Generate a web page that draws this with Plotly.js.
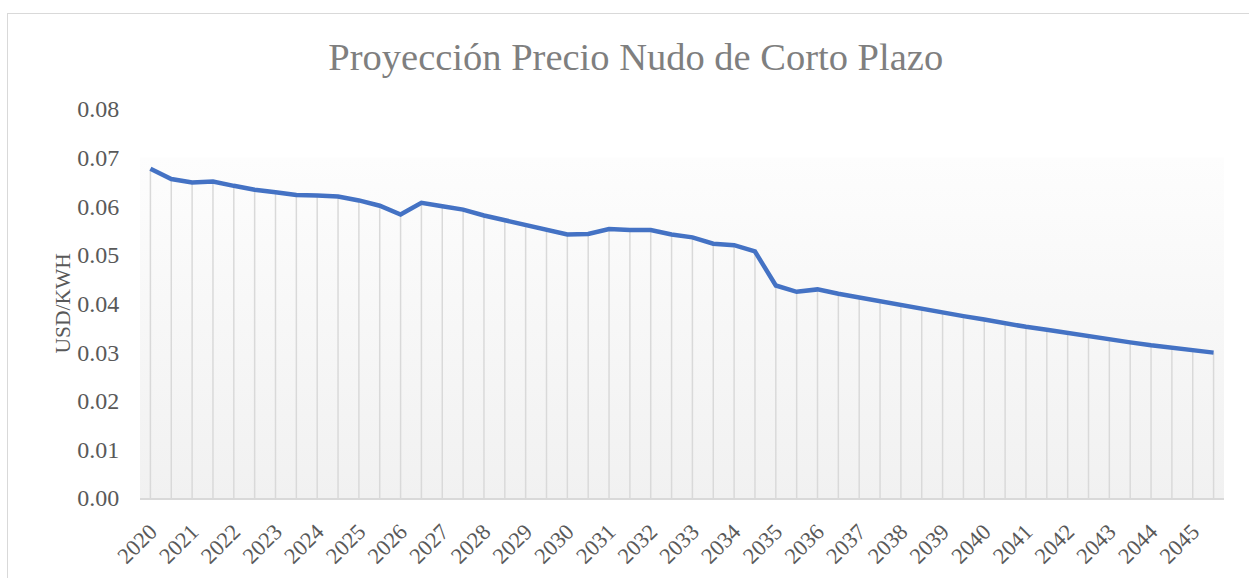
<!DOCTYPE html>
<html>
<head>
<meta charset="utf-8">
<script src="https://cdn.plot.ly/plotly-3.0.1.min.js"></script>
<style>
  html, body { margin: 0; padding: 0; background: #ffffff; }
  #wrap { position: relative; width: 1249px; height: 578px; overflow: hidden; }
  #frame { position: absolute; left: 7px; top: 13px; width: 1300px; height: 700px; border: 1px solid #d9d9d9; box-sizing: border-box; pointer-events: none; }
  #chart { position: absolute; left: 0; top: 0; width: 1249px; height: 578px; }
</style>
</head>
<body>
<div id="wrap">
  <div id="chart"></div>
  <div id="frame"></div>
</div>
<script>
// Half-year periods (two points per year), 2020 .. 2045
const periods = [
  '2020-S1','2020-S2','2021-S1','2021-S2','2022-S1','2022-S2','2023-S1','2023-S2',
  '2024-S1','2024-S2','2025-S1','2025-S2','2026-S1','2026-S2','2027-S1','2027-S2',
  '2028-S1','2028-S2','2029-S1','2029-S2','2030-S1','2030-S2','2031-S1','2031-S2',
  '2032-S1','2032-S2','2033-S1','2033-S2','2034-S1','2034-S2','2035-S1','2035-S2',
  '2036-S1','2036-S2','2037-S1','2037-S2','2038-S1','2038-S2','2039-S1','2039-S2',
  '2040-S1','2040-S2','2041-S1','2041-S2','2042-S1','2042-S2','2043-S1','2043-S2',
  '2044-S1','2044-S2','2045-S1','2045-S2'
];

// Precio nudo (USD/kWh)
const precio = [
  0.0677, 0.0656, 0.0649, 0.0651, 0.0642, 0.0634, 0.0629, 0.0623,
  0.0622, 0.0620, 0.0612, 0.0601, 0.0583, 0.0607, 0.0600, 0.0593,
  0.0581, 0.0571, 0.0561, 0.0550, 0.0542, 0.0543, 0.0553, 0.0551,
  0.0551, 0.0542, 0.0536, 0.0523, 0.0520, 0.0507, 0.0437, 0.0424,
  0.0429, 0.0420, 0.0412, 0.0404, 0.0396, 0.0389, 0.0381, 0.0374,
  0.0367, 0.0359, 0.0352, 0.0346, 0.0339, 0.0333, 0.0326, 0.0320,
  0.0314, 0.0309, 0.0304, 0.0299
];

// Year tick labels (one per year, at the first half of each year)
const yearLabels = ['2020','2021','2022','2023','2024','2025','2026','2027','2028','2029',
  '2030','2031','2032','2033','2034','2035','2036','2037','2038','2039',
  '2040','2041','2042','2043','2044','2045'];
const yTicks = [0, 0.01, 0.02, 0.03, 0.04, 0.05, 0.06, 0.07, 0.08];
const yTitle = 'USD/KWH';

const BAND_TOP = 0.07; // top of the shaded gradient band (style)

const xIdx = periods.map((p, i) => i);
const yearTickVals = yearLabels.map(y => periods.indexOf(y + '-S1'));
const xMin = -0.5, xMax = periods.length - 0.5;

// drop lines from each point down to zero
const dropX = [], dropY = [];
precio.forEach((v, i) => { dropX.push(i, i, null); dropY.push(0, v, null); });

const serif = '"Liberation Serif", "Times New Roman", Times, serif';

const traces = [
  {
    x: [xMin, xMax], y: [BAND_TOP, BAND_TOP],
    type: 'scatter', mode: 'lines', line: {width: 0, color: 'rgba(0,0,0,0)'},
    fill: 'tozeroy',
    fillgradient: {type: 'vertical', colorscale: [[0, '#f1f1f1'], [1, '#fdfdfd']]},
    hoverinfo: 'skip', showlegend: false
  },
  {
    x: dropX, y: dropY, type: 'scatter', mode: 'lines',
    line: {color: '#d9d9d9', width: 1.5}, hoverinfo: 'skip', showlegend: false
  },
  {
    x: xIdx, y: precio, type: 'scatter', mode: 'lines',
    line: {color: '#4472c4', width: 4.5}, name: 'Precio nudo', showlegend: false
  }
];

const layout = {
  width: 1249, height: 578,
  margin: {l: 140, r: 25, t: 109, b: 80},
  paper_bgcolor: 'rgba(0,0,0,0)', plot_bgcolor: 'rgba(0,0,0,0)',
  font: {family: serif, color: '#595959', size: 22},
  title: {
    text: 'Proyección Precio Nudo de Corto Plazo',
    font: {family: serif, size: 38.5, color: '#7f7f7f'},
    x: 0.509, xanchor: 'center', y: 0.902, yanchor: 'middle'
  },
  xaxis: {
    range: [xMin, xMax], showgrid: false, zeroline: false,
    showline: true, linecolor: '#d9d9d9', linewidth: 1.5,
    tickmode: 'array', tickvals: yearTickVals, ticktext: yearLabels,
    tickangle: -45, ticks: 'outside', ticklen: 10, tickcolor: 'rgba(0,0,0,0)',
    tickfont: {family: serif, size: 22.5, color: '#595959'}
  },
  yaxis: {
    range: [0, 0.08], showgrid: false, zeroline: false, showline: false,
    tickmode: 'array', tickvals: yTicks, tickformat: '.2f',
    ticks: 'outside', ticklen: 15, tickcolor: 'rgba(0,0,0,0)',
    tickfont: {family: serif, size: 24, color: '#595959'}
  },
  annotations: [{
    text: yTitle, xref: 'paper', yref: 'paper', x: 0, y: 0.5,
    xanchor: 'center', yanchor: 'middle', xshift: -78, textangle: -90,
    showarrow: false, font: {family: serif, size: 21.5, color: '#595959'}
  }]
};

Plotly.newPlot('chart', traces, layout, {displayModeBar: false, staticPlot: true});
</script>
</body>
</html>
